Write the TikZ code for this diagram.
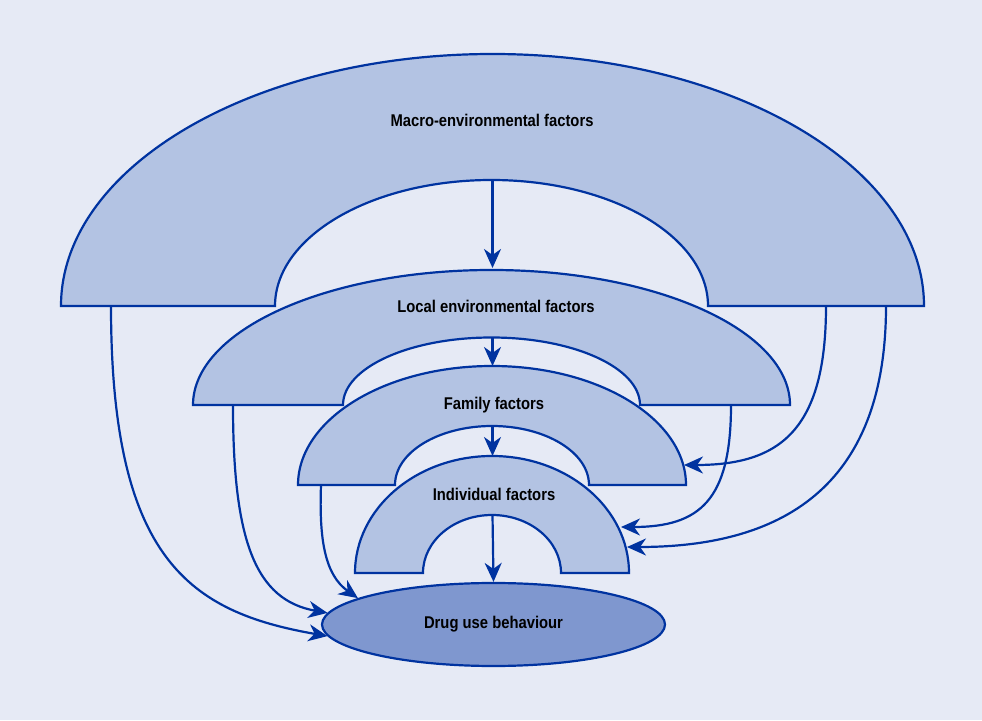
\documentclass[tikz,border=0pt]{standalone}
\usepackage{fontspec}
\setmainfont{Liberation Sans}
\usepackage{tikz}
\usetikzlibrary{positioning}
\usetikzlibrary{shapes.geometric}
\usetikzlibrary{arrows.meta}

\definecolor{bgblue}{RGB}{230,234,245}
\definecolor{archblue}{RGB}{179,195,227}
\definecolor{drugblue}{RGB}{127,151,207}
\definecolor{lineblue}{RGB}{0,51,160}

\newcommand{\narrowtext}[1]{\scalebox{0.87}[1]{#1}}

\tikzset{
  arch/.style={draw=lineblue, fill=archblue, line width=2.2pt, line join=miter},
  lbl/.style={font=\bfseries\fontsize{17}{20}\selectfont, text=black},
  flow/.style={draw=lineblue, line width=2.2pt, -{Stealth[length=19pt, width=17pt, inset=6pt]}}
}

\begin{document}
\begin{tikzpicture}[x=1pt, y=1pt]

                % Background
                \fill[bgblue] (0,0) rectangle (982,720);
                \useasboundingbox (0,0) rectangle (982,720);

                % Arches
                \draw[arch] (61,414) arc[start angle=180, end angle=0, x radius=431.5pt, y radius=252pt]
                  -- (708,414) arc[start angle=0, end angle=180, x radius=216.5pt, y radius=126pt] -- cycle;
                \draw[arch] (193,315) arc[start angle=180, end angle=0, x radius=298.5pt, y radius=135pt]
                  -- (640,315) arc[start angle=0, end angle=180, x radius=148.5pt, y radius=67.5pt] -- cycle;
                \draw[arch] (298,235) arc[start angle=180, end angle=0, x radius=194pt, y radius=119pt]
                  -- (589,235) arc[start angle=0, end angle=180, x radius=97pt, y radius=59pt] -- cycle;
                \draw[arch] (355,147) arc[start angle=180, end angle=0, x radius=137pt, y radius=117pt]
                  -- (561,147) arc[start angle=0, end angle=180, x radius=69pt, y radius=58pt] -- cycle;

                % Nodes
                \node[lbl] at (492,600) (macro) {\narrowtext{Macro-environmental factors}};
                \node[lbl] at (496,414) (local) {\narrowtext{Local environmental factors}};
                \node[lbl] at (494,315) (family) {\narrowtext{Family factors}};
                \node[lbl] at (494,226) (indiv) {\narrowtext{Individual factors}};
                \node[lbl, ellipse, draw=lineblue, fill=drugblue, line width=2.2pt, inner sep=0pt,
                      minimum width=343pt, minimum height=83pt] at (493.5,95.5) (drug) {\narrowtext{Drug use behaviour}};

                % Arch edges
                \coordinate (macIn) at (492.5,540);
                \coordinate (locTop) at (492.5,452);
                \coordinate (locIn) at (492.5,383);
                \coordinate (famTop) at (492.5,354);
                \coordinate (famIn) at (492.5,294);
                \coordinate (indTop) at (492.5,264);
                \coordinate (indIn) at (492.5,205);
                \coordinate (famR) at (684,255);
                \coordinate (indRa) at (621,193);
                \coordinate (indRb) at (627,173);

                % Arrows
                \draw[flow] (macIn) -- (locTop);
                \draw[flow] (locIn) -- (famTop);
                \draw[flow] (famIn) -- (indTop);
                \draw[flow] (indIn) -- (drug.north);

                \draw[flow] (111,414) .. controls (111,160) and (190,108) .. (drug.184);
                \draw[flow] (233,315) .. controls (233,180) and (255,120) .. (drug.176);
                \draw[flow] (321,235) .. controls (319,180) and (325,145) .. (drug.169);

                \draw[flow] (826,414) .. controls (826,290) and (780,255) .. (famR);
                \draw[flow] (731,315) .. controls (731,220) and (700,193) .. (indRa);
                \draw[flow] (886,414) .. controls (886,240) and (790,173) .. (indRb);

            \end{tikzpicture}
\end{document}
